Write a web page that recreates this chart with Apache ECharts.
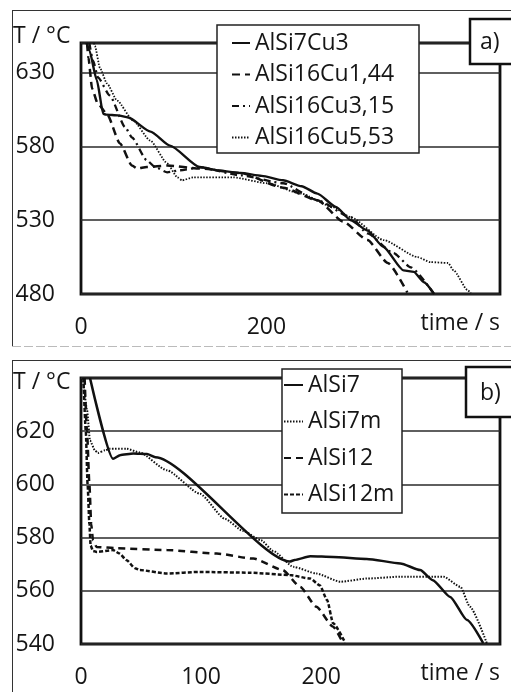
<!DOCTYPE html>
<html><head><meta charset="utf-8">
<script src="https://cdn.jsdelivr.net/npm/echarts@6/dist/echarts.min.js"></script>
<style>html,body{margin:0;padding:0;background:#fff}#c{width:511px;height:692px}</style>
</head><body><div id="c"></div>
<script>
// ---- Panel a data: [time s, T °C]
const aNames = ['AlSi7Cu3', 'AlSi16Cu1,44', 'AlSi16Cu3,15', 'AlSi16Cu5,53'];
const aAlSi7Cu3 = [[6,650],[9,645],[17,625],[24,602],[27,601.5],[40,601],[51,599.5],[75,590],[96,580.5],[128,566],[150,563.5],[172,562],[195,560],[218,557],[238,553],[255,548],[275,539],[291,530],[309,523],[326,512],[348,496],[359,495],[370,488],[381,480]];
const aAlSi16Cu1_44 = [[6.5,650],[8,640],[12,619],[18,609],[28,602],[42,582],[55,567],[60.5,565],[71,566],[93,567],[128,565],[172,562],[218,552],[255,543.5],[283,529],[309,516.5],[331,501],[352,481]];
const aAlSi16Cu3_15 = [[9,650],[13,638],[18.4,626.6],[31,614.5],[47.6,593],[55,586],[71,570.5],[80,566],[93,562.4],[107,563.8],[128.6,565.8],[172,560.4],[218,555],[255,543.5],[291,532],[309,521],[337,507.7],[356,498],[380,480.7]];
const aAlSi16Cu5_53 = [[14,650],[15,648],[20.5,633],[28,622.6],[39,611],[56,597.6],[74.6,584],[93,568.5],[104,559],[109,557],[121,559],[164,559],[201,555],[237,548],[272,538.8],[291,532],[326.5,516.5],[363,505],[377,501.6],[396,501],[402,496],[417,482.7],[420.5,480.5]];
const aYTicks = [480, 530, 580, 630];
const aXTicks = [0, 200];

// ---- Panel b data
const bNames = ['AlSi7', 'AlSi7m', 'AlSi12', 'AlSi12m'];
const bAlSi7 = [[7.5,640],[26.7,609.6],[32.5,611],[43.6,611.6],[55,611.4],[62,610.2],[174,571],[178,571.6],[191,573],[210,572.7],[238,572],[266,570.3],[282.5,567.8],[293,564],[307.5,557.7],[321.5,549],[335,540.3]];
const bAlSi7m = [[1.7,640],[5,628],[7.5,616.5],[11.6,612.8],[14,611.8],[20,612.8],[24,613.4],[38,613.4],[49,612],[71.5,605.3],[99,596.5],[120,587],[135,582.5],[150,579],[160,575],[177,569],[196,566.5],[216,563.4],[238,564.6],[266,565.3],[302,565.3],[316,561.5],[324,554],[338,540.3]];
const bAlSi12 = [[3,640],[5,620],[7,600],[8.5,585],[10,579],[13,576.5],[30,576],[71.5,575.3],[113,574],[143.6,572.1],[168,567.8],[182.5,561.5],[196,554],[210,546.5],[218,540.5]];
const bAlSi12m = [[2,640],[4,620],[5.5,600],[7,585],[8,577],[10,575],[13,574.6],[26.7,575.3],[32,574],[38,571.5],[45,568.5],[49,567.8],[71.5,566.5],[99,567.1],[141,566.8],[174,565.9],[191,564.6],[199,562],[205,556.5],[210,547.8],[220,540.5]];
const bYTicks = [540, 560, 580, 600, 620];
const bXTicks = [0, 100, 200];

const FONT = 'Open Sans';
const TXT = '#151515';
const LINE = '#111';
const fs = 23;

function yAx(gi, min, max, interval, ticks) {
  return {
    type: 'value', gridIndex: gi, min: min, max: max, interval: interval,
    axisLine: {show: false}, axisTick: {show: false},
    splitLine: {show: true, lineStyle: {color: '#2a2a2a', width: 1.5}},
    axisLabel: {customValues: ticks, margin: 26, fontFamily: FONT, fontSize: fs, color: TXT}
  };
}
function xAx(gi, min, max, interval, ticks) {
  return {
    type: 'value', gridIndex: gi, min: min, max: max, interval: interval,
    axisLine: {show: false}, axisTick: {show: false}, splitLine: {show: false},
    axisLabel: {customValues: ticks, margin: 22, fontFamily: FONT, fontSize: fs, color: TXT}
  };
}
function ser(name, data, gi, type, width) {
  return {
    name: name, type: 'line', data: data, xAxisIndex: gi, yAxisIndex: gi,
    showSymbol: false, symbol: 'none', smooth: 0.2, smoothMonotone: 'x', clip: true,
    color: LINE, itemStyle: {color: LINE},
    lineStyle: {color: LINE, width: width, type: type}, z: 3
  };
}
const legendCommon = {
  orient: 'vertical', itemHeight: 14,
  backgroundColor: 'transparent', borderWidth: 0, padding: 0,
  itemStyle: {opacity: 0},
  textStyle: {fontFamily: FONT, fontSize: fs, color: TXT, lineHeight: 26},
  z: 20
};

const chart = echarts.init(document.getElementById('c'), null, {renderer: 'canvas'});
chart.setOption({
  animation: false,
  backgroundColor: '#fff',
  grid: [
    {left: 81, top: 43, width: 419, height: 251, show: true, borderColor: '#111', borderWidth: 2.8, backgroundColor: 'transparent'},
    {left: 81, top: 378, width: 419, height: 266, show: true, borderColor: '#111', borderWidth: 2.8, backgroundColor: 'transparent'}
  ],
  xAxis: [xAx(0, 0, 452, 200, aXTicks), xAx(1, 0, 349, 100, bXTicks)],
  yAxis: [yAx(0, 480, 650, 50, aYTicks), yAx(1, 540, 640, 20, bYTicks)],
  legend: [
    Object.assign({}, legendCommon, {data: aNames, left: 231, top: 30, itemWidth: 18, itemGap: 5.5}),
    Object.assign({}, legendCommon, {data: bNames, left: 283, top: 372, itemWidth: 19, itemGap: 10.5})
  ],
  series: [
    ser(aNames[0], aAlSi7Cu3, 0, 'solid', 2.4),
    ser(aNames[1], aAlSi16Cu1_44, 0, [8, 5], 2.5),
    ser(aNames[2], aAlSi16Cu3_15, 0, [7, 4, 2, 4], 2.3),
    ser(aNames[3], aAlSi16Cu5_53, 0, [1.5, 1.5], 1.8),
    ser(bNames[0], bAlSi7, 1, 'solid', 2.5),
    ser(bNames[1], bAlSi7m, 1, [1.5, 1.5], 2),
    ser(bNames[2], bAlSi12, 1, [7, 5], 2.5),
    ser(bNames[3], bAlSi12m, 1, [4, 2], 2.5)
  ],
  graphic: [
    {type: 'line', shape: {x1: 12, y1: 10.5, x2: 511, y2: 10.5}, style: {stroke: '#333', lineWidth: 1}, z: 1},
    {type: 'line', shape: {x1: 12.5, y1: 10, x2: 12.5, y2: 346}, style: {stroke: '#333', lineWidth: 1}, z: 1},
    {type: 'line', shape: {x1: 12, y1: 346.5, x2: 511, y2: 346.5}, style: {stroke: '#bbb', lineWidth: 1, lineDash: [9, 3]}, z: 1},
    {type: 'line', shape: {x1: 12, y1: 360.5, x2: 511, y2: 360.5}, style: {stroke: '#333', lineWidth: 1}, z: 1},
    {type: 'line', shape: {x1: 12.5, y1: 360, x2: 12.5, y2: 692}, style: {stroke: '#333', lineWidth: 1}, z: 1},
    {type: 'rect', shape: {x: 217, y: 25, width: 202, height: 128}, style: {fill: '#fff', stroke: '#222', lineWidth: 1.5}, z: 10},
    {type: 'rect', shape: {x: 282, y: 369, width: 120, height: 144}, style: {fill: '#fff', stroke: '#222', lineWidth: 1.5}, z: 10},
    {type: 'rect', shape: {x: 470, y: 19, width: 60, height: 45}, style: {fill: '#fff', stroke: '#111', lineWidth: 2.5}, z: 10},
    {type: 'rect', shape: {x: 466, y: 367, width: 60, height: 50}, style: {fill: '#fff', stroke: '#111', lineWidth: 2.5}, z: 10},
    {type: 'text', x: 480, y: 42, style: {text: 'a)', font: fs + 'px "' + FONT + '"', fill: TXT, verticalAlign: 'middle'}, z: 11},
    {type: 'text', x: 480, y: 393, style: {text: 'b)', font: fs + 'px "' + FONT + '"', fill: TXT, verticalAlign: 'middle'}, z: 11},
    {type: 'text', x: 13, y: 36, style: {text: 'T / °C', font: fs + 'px "' + FONT + '"', fill: TXT, verticalAlign: 'middle'}, z: 11},
    {type: 'text', x: 13, y: 382, style: {text: 'T / °C', font: fs + 'px "' + FONT + '"', fill: TXT, verticalAlign: 'middle'}, z: 11},
    {type: 'text', x: 500, y: 323, style: {text: 'time / s', font: fs + 'px "' + FONT + '"', fill: TXT, align: 'right', verticalAlign: 'middle'}, z: 11},
    {type: 'text', x: 500, y: 673, style: {text: 'time / s', font: fs + 'px "' + FONT + '"', fill: TXT, align: 'right', verticalAlign: 'middle'}, z: 11}
  ]
});
</script></body></html>
